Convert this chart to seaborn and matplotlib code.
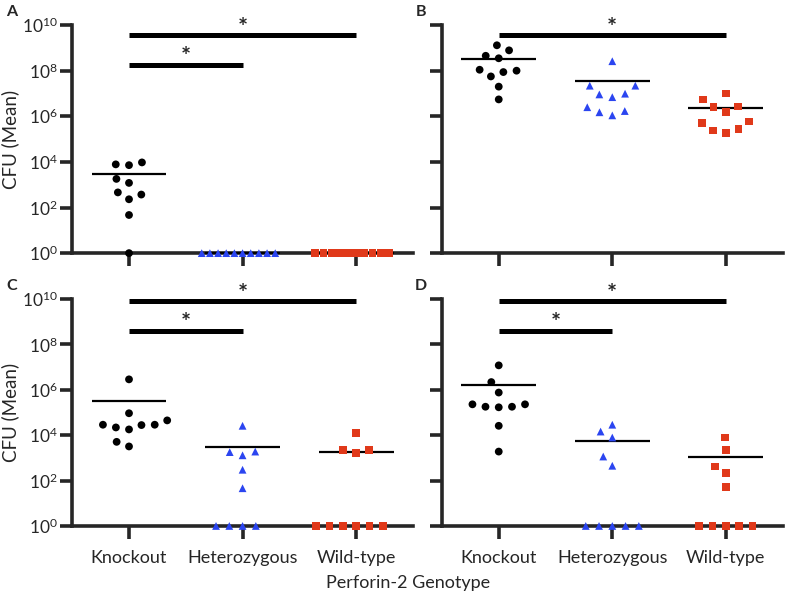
import numpy as np
import pandas as pd
import matplotlib
matplotlib.use('Agg')
import matplotlib.pyplot as plt
from matplotlib.transforms import Bbox, TransformedBbox
import seaborn as sns

genotypes = ['Knockout', 'Heterozygous', 'Wild-type']
colors = ['black', '#2B45F0', '#E0391A']
markers = ['o', '^', 's']

# CFU per mouse (0 = nothing recovered, drawn on the 10^0 floor)
a_ko = [9.5e3, 7.2e3, 7.8e3, 1.8e3, 1.2e3, 4.6e2, 3.7e2, 2.3e2, 47, 0]
a_het = [0, 0, 0, 0, 0, 0, 0, 0, 0, 0]
a_wt = [0, 0, 0, 0, 0, 0, 0, 0, 0, 0]

b_ko = [1.3e9, 7.8e8, 4.5e8, 3.5e8, 1.1e8, 8.7e7, 1.0e8, 5.6e7, 2.0e7, 5.5e6]
b_het = [2.6e8, 2.2e7, 2.2e7, 9.1e6, 9.8e6, 6.9e6, 1.7e6, 2.5e6, 1.5e6, 1.1e6]
b_wt = [1.0e7, 5.4e6, 2.7e6, 2.5e6, 1.6e6, 5.9e5, 5.2e5, 2.8e5, 2.4e5, 1.9e5]

c_ko = [2.9e6, 9.3e4, 4.5e4, 2.9e4, 2.2e4, 1.8e4, 2.8e4, 2.9e4, 3.2e3, 5.1e3]
c_het = [2.6e4, 1.9e3, 1.3e3, 1.8e3, 3.0e2, 46, 0, 0, 0, 0]
c_wt = [1.3e4, 2.2e3, 1.6e3, 2.2e3, 0, 0, 0, 0, 0, 0]

d_ko = [1.2e7, 2.2e6, 7.6e5, 2.3e5, 1.8e5, 1.7e5, 1.8e5, 2.3e5, 2.6e4, 1.9e3]
d_het = [2.9e4, 1.45e4, 7.9e3, 1.15e3, 4.5e2, 0, 0, 0, 0, 0]
d_wt = [7.9e3, 2.2e3, 4.2e2, 2.1e2, 51, 0, 0, 0, 0, 0]

# significance bars: (from group, to group, height)
sig_a = [(0, 2, 3.5e9), (0, 1, 1.8e8)]
sig_b = [(0, 2, 3.5e9)]
sig_c = [(0, 2, 7.9e9), (0, 1, 4.0e8)]
sig_d = [(0, 2, 7.9e9), (0, 1, 4.0e8)]

yticks = [1e0, 1e2, 1e4, 1e6, 1e8, 1e10]
ytick_labels = [r'$10^{0}$', r'$10^{2}$', r'$10^{4}$', r'$10^{6}$', r'$10^{8}$', r'$10^{10}$']

sns.set_style('ticks')
plt.rcParams['font.family'] = ['Lato', 'DejaVu Sans']
plt.rcParams['mathtext.fontset'] = 'custom'
plt.rcParams['mathtext.rm'] = 'Lato'
plt.rcParams['mathtext.default'] = 'regular'

fig = plt.figure(figsize=(7.85, 5.97), dpi=100)

panels = [
    ('A', [a_ko, a_het, a_wt], sig_a, [0.092, 0.576, 0.434, 0.382], True, False, [3.5, 0, 0]),
    ('B', [b_ko, b_het, b_wt], sig_b, [0.563, 0.576, 0.434, 0.382], False, False, [3.5, 3.5, 3.5]),
    ('C', [c_ko, c_het, c_wt], sig_c, [0.092, 0.119, 0.434, 0.380], True, True, [3.5, 3.5, 3.5]),
    ('D', [d_ko, d_het, d_wt], sig_d, [0.563, 0.119, 0.434, 0.380], False, True, [3.5, 3.5, 3.5]),
]

for letter, groups, sigs, rect, show_y, show_x, spreads in panels:
    ax = fig.add_axes(rect)
    for i, vals in enumerate(groups):
        df = pd.DataFrame({'genotype': genotypes[i], 'cfu': vals})
        df['shown'] = df['cfu'].clip(lower=1)
        sns.swarmplot(data=df, x='genotype', y='shown', order=genotypes,
                      color=colors[i], marker=markers[i], size=5.6,
                      edgecolor='none', linewidth=spreads[i],
                      log_scale=True, zorder=4, warn_thresh=1, ax=ax)
        mean = np.mean(vals)
        ax.hlines(max(mean, 1), i - 0.33, i + 0.33, color='black', lw=1.6,
                  zorder=3)
    # let markers sitting on the axis line show in full
    box = TransformedBbox(Bbox([[-0.05, -0.06], [1.05, 1.05]]), ax.transAxes)
    for coll in ax.collections:
        coll.set_clip_on(True)
        coll.set_clip_box(box)

    for g0, g1, h in sigs:
        ax.plot([g0, g1], [h, h], color='black', lw=3.6, solid_capstyle='butt',
                clip_on=False, zorder=3)
        ax.text((g0 + g1) / 2, h * 0.95, '*', ha='center', va='baseline',
                fontsize=17, fontweight='bold', clip_on=False)

    ax.set_xlim(-0.5, 2.5)
    ax.set_ylim(1, 1e10)
    ax.set_yticks(yticks)
    ax.minorticks_off()
    ax.set_xlabel('')
    ax.set_ylabel('')
    ax.set_xticks(range(3))
    if show_y:
        ax.set_yticklabels(ytick_labels, fontsize=12.5)
        ax.set_ylabel('CFU (Mean)', fontsize=13.5)
        ax.yaxis.set_label_coords(-0.155, 0.5)
    else:
        ax.set_yticklabels([])
    if show_x:
        ax.set_xticklabels(genotypes, fontsize=13)
    else:
        ax.set_xticklabels([])
    sns.despine(ax=ax)
    for side in ['left', 'bottom']:
        ax.spines[side].set_linewidth(2.6)
    ax.tick_params(axis='both', length=9, width=2.6, direction='out')
    ax.tick_params(axis='y', pad=1.5)
    ax.tick_params(axis='x', pad=8)

    fig.text(rect[0] - (0.077 if show_y else 0.027), rect[1] + rect[3] + 0.016,
             letter, fontsize=11.5, fontweight='bold', ha='center', va='baseline')

fig.text(0.52, 0.015, 'Perforin-2 Genotype', ha='center', va='baseline', fontsize=13)

plt.savefig('out.png', dpi=100)
